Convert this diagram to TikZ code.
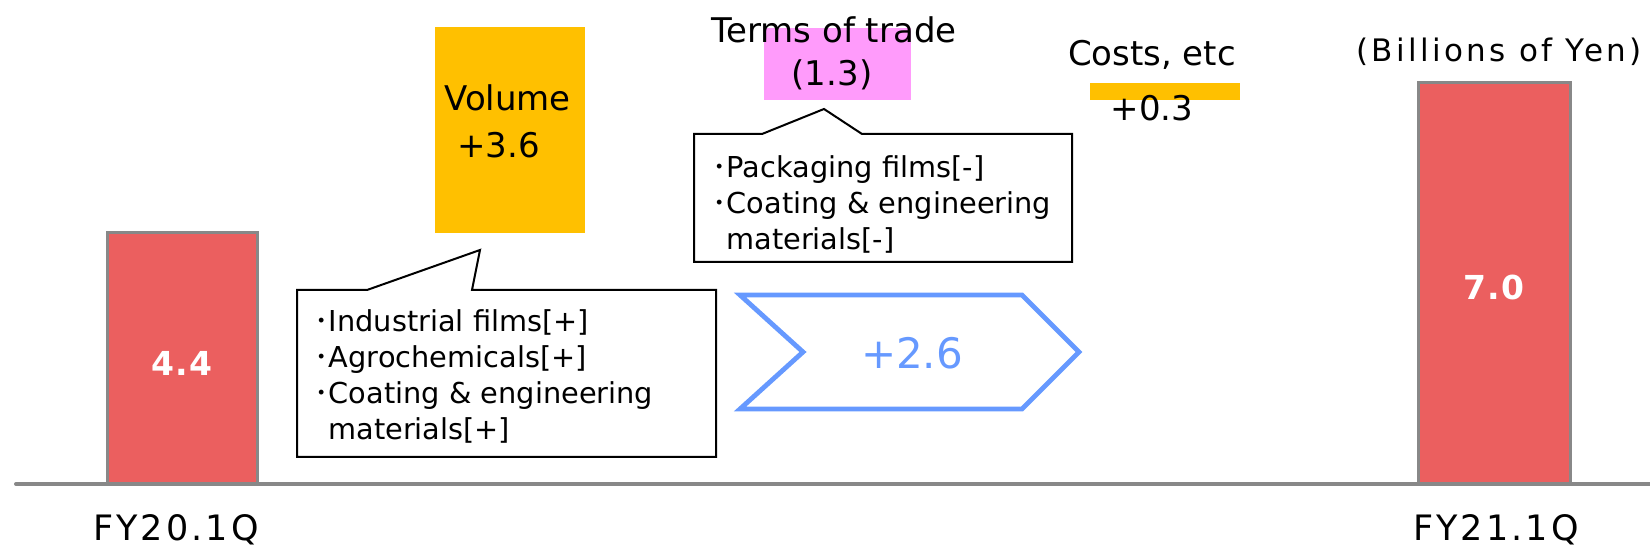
\documentclass[tikz,border=0pt]{standalone}
\usepackage{fontspec}
\setmainfont{DejaVu Sans}
\newfontfamily\cjk{Noto Sans CJK JP}
\newfontfamily\spaced[LetterSpace=11]{DejaVu Sans}
\newfontfamily\wide[LetterSpace=9]{DejaVu Sans}
\newfontfamily\valfont[LetterSpace=5]{DejaVu Sans Bold}
\usetikzlibrary{calc}
\definecolor{barred}{HTML}{EB5F5F}
\definecolor{edge}{HTML}{888888}
\definecolor{amber}{HTML}{FFC000}
\definecolor{pinkish}{HTML}{FF9BFB}
\definecolor{gain}{HTML}{6699FF}
\newcommand{\lbl}{\fontsize{17}{20}\selectfont}
\newcommand{\note}{\fontsize{14.4}{18.1}\selectfont}
\newcommand{\bul}{{\cjk ･}}

\begin{document}
\begin{tikzpicture}[x=0.5pt,y=-0.5pt,
  bar/.style={draw=edge,fill=barred,line width=1.5pt},
  val/.style={text=white,font=\valfont\fontsize{16.5}{18}\selectfont,inner sep=0},
  yr/.style={font=\wide\fontsize{17.5}{20}\selectfont,inner sep=0,anchor=base},
  head/.style={font=\lbl,inner sep=0},
  callout/.style={draw=black,fill=white,line width=1pt},
  list/.style={font=\note,align=left,inner sep=0,anchor=north west}]
\useasboundingbox (0,0) rectangle (1650,550);
% bars
\draw[bar] (107,484) rectangle (257,233);
\draw[bar] (1418,484) rectangle (1570,83);
\draw[edge,line width=2pt,line cap=round] (16,484) -- (1650,484);
\node[val] (v44) at (182,363) {4.4};
\node[val] (v70) at (1494,287) {7.0};
\node[yr] (fy20) at (176,541) {FY20.1Q};
\node[yr] (fy21) at (1496,541) {FY21.1Q};
\node[font=\spaced\fontsize{15.5}{18}\selectfont,inner sep=0] (unit) at (1499,52) {(Billions of Yen)};
% volume
\fill[amber] (435,27) rectangle (585,233);
\node[head,anchor=west] (vol) at (444,98) {Volume};
\node[head,anchor=west] (volv) at (457,145) {+3.6};
\draw[callout] (297,290) -- (367,290) -- (480,250) -- (472,290) -- (716,290) -- (716,457) -- (297,457) -- cycle;
\node[list] (vlist) at (314,309) {\bul Industrial films[+]\\ \bul Agrochemicals[+]\\ \bul Coating \& engineering\\ \hspace{7pt}materials[+]};
% terms of trade
\fill[pinkish] (764,28) rectangle (911,100);
\node[head] (tot) at (834,30) {Terms of trade};
\node[head] (totv) at (832,75) {(1.3)};
\draw[callout] (694,134) -- (762,134) -- (824,109) -- (862,134) -- (1072,134) -- (1072,262) -- (694,262) -- cycle;
\node[list] (tlist) at (712,155) {\bul Packaging films[-]\\ \bul Coating \& engineering\\ \hspace{7pt}materials[-]};
% costs
\fill[amber] (1090,83) rectangle (1240,100);
\node[head] (cost) at (1152,55) {Costs, etc};
\node[head] (costv) at (1152,108) {+0.3};
% total change
\draw[gain,line width=2.4pt,line join=miter] (740,295) -- (1022,295) -- (1079,352) -- (1022,409) -- (740,409) -- (803,352) -- cycle;
\node[text=gain,font=\fontsize{21}{24}\selectfont,inner sep=0] (tot26) at (912,353) {+2.6};
\end{tikzpicture}
\end{document}
